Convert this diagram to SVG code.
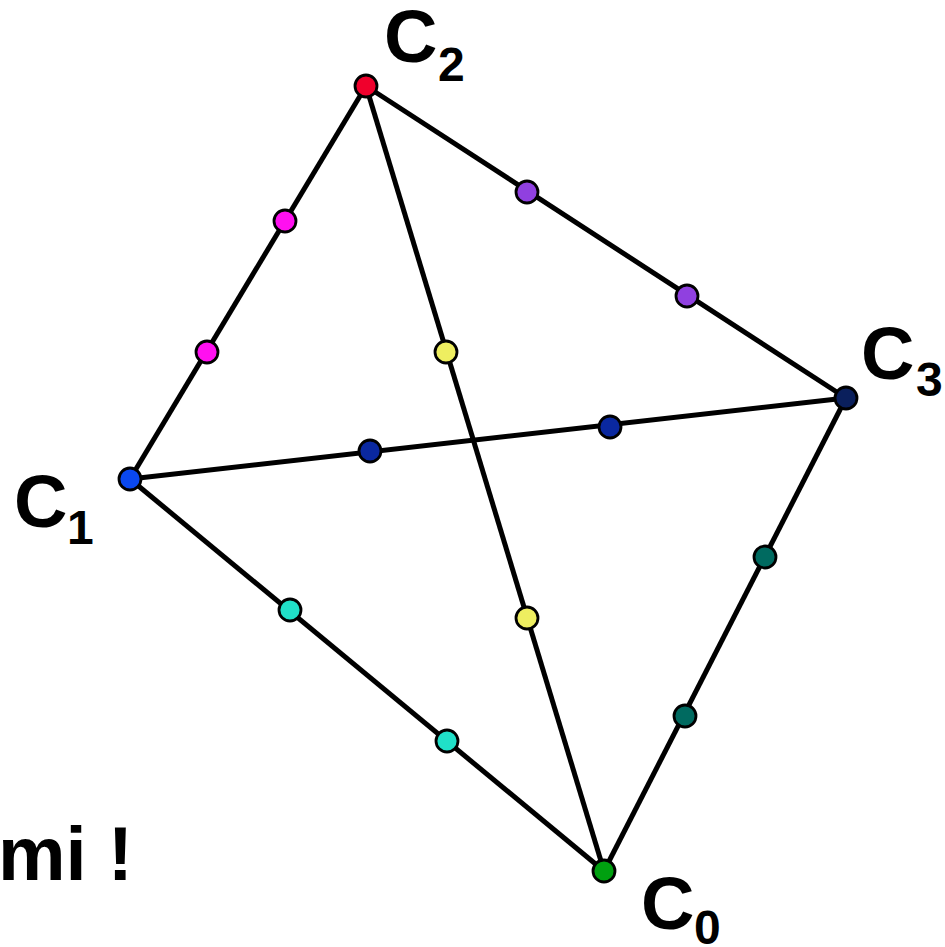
<svg xmlns="http://www.w3.org/2000/svg" width="945" height="947" viewBox="0 0 945 947">
<style>
.e{stroke:#000;stroke-width:5;fill:none}
.n{stroke:#000;stroke-width:2.8}
.l{font-family:"Liberation Sans",Arial,sans-serif;font-weight:bold;font-size:74px;fill:#000}
.s{font-size:48px}
</style>
<rect width="945" height="947" fill="#fff"/>
<g id="edges">
<line class="e" x1="366" y1="86" x2="130" y2="479"/>
<line class="e" x1="366" y1="86" x2="846" y2="398"/>
<line class="e" x1="366" y1="86" x2="604" y2="871"/>
<line class="e" x1="130" y1="479" x2="846" y2="398"/>
<line class="e" x1="130" y1="479" x2="604" y2="871"/>
<line class="e" x1="846" y1="398" x2="604" y2="871"/>
</g>
<g id="m12a"><circle class="n" cx="285" cy="221" r="11" fill="#ff10f0"/></g>
<g id="m12b"><circle class="n" cx="207" cy="352" r="11" fill="#ff10f0"/></g>
<g id="m23a"><circle class="n" cx="527" cy="192" r="11" fill="#9040e0"/></g>
<g id="m23b"><circle class="n" cx="687" cy="296" r="11" fill="#9040e0"/></g>
<g id="m20a"><circle class="n" cx="446" cy="352" r="11" fill="#eeee60"/></g>
<g id="m20b"><circle class="n" cx="527" cy="618" r="11" fill="#eeee60"/></g>
<g id="m13a"><circle class="n" cx="370" cy="451" r="11" fill="#0a28a0"/></g>
<g id="m13b"><circle class="n" cx="610" cy="427" r="11" fill="#0a28a0"/></g>
<g id="m10a"><circle class="n" cx="290" cy="610" r="11" fill="#20e0c8"/></g>
<g id="m10b"><circle class="n" cx="447" cy="741" r="11" fill="#20e0c8"/></g>
<g id="m30a"><circle class="n" cx="765" cy="557" r="11" fill="#006a60"/></g>
<g id="m30b"><circle class="n" cx="685" cy="716" r="11" fill="#006a60"/></g>
<g id="C2"><circle class="n" cx="366" cy="86" r="11" fill="#f0002c"/><text class="l" x="384" y="62">C<tspan class="s" x="438" y="81">2</tspan></text></g>
<g id="C3"><circle class="n" cx="846" cy="398" r="11" fill="#0a1f5c"/><text class="l" x="861" y="379">C<tspan class="s" x="916" y="396">3</tspan></text></g>
<g id="C1"><circle class="n" cx="130" cy="479" r="11" fill="#0a48f0"/><text class="l" x="14" y="527">C<tspan class="s" x="67" y="544">1</tspan></text></g>
<g id="C0"><circle class="n" cx="604" cy="871" r="11" fill="#00a010"/><text class="l" x="641" y="929">C<tspan class="s" x="694" y="944">0</tspan></text></g>
<text class="l" x="-2" y="880" style="font-size:76px">mi !</text>
</svg>
